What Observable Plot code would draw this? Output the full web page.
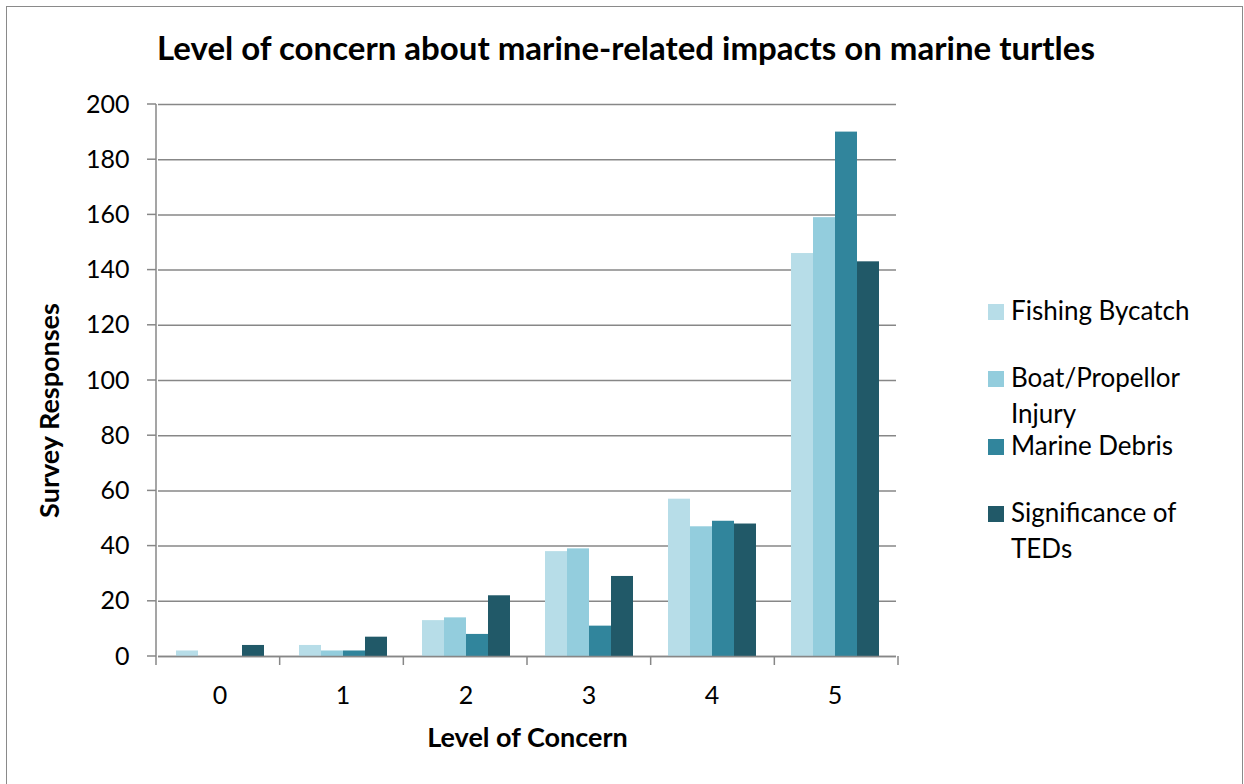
<!DOCTYPE html>
<html>
<head>
<meta charset="utf-8">
<script src="https://cdn.jsdelivr.net/npm/d3@7"></script>
<script src="https://cdn.jsdelivr.net/npm/@observablehq/plot@0.6"></script>
<style>
  html, body { margin: 0; padding: 0; background: #fff; }
  #wrap { position: relative; width: 1244px; height: 784px; overflow: hidden; font-family: Lato, "Open Sans", sans-serif; }
  #border { position: absolute; left: 6px; top: 6px; width: 1237px; height: 800px; border: 1.5px solid #8a8a8a; box-sizing: border-box; }
  #title { position: absolute; left: 0; width: 1252px; top: 31px; line-height: 33px; text-align: center; font-weight: 700; font-size: 33px; color: #000; white-space: nowrap; }
  #chart { position: absolute; left: 0; top: 0; }
  .leg { position: absolute; left: 988px; font-size: 26px; line-height: 36px; color: #000; }
  .leg .sw { position: absolute; left: 0; width: 16px; height: 16px; }
  .leg .tx { position: absolute; left: 23px; white-space: nowrap; }
</style>
</head>
<body>
<div id="wrap">
  <div id="border"></div>
  <div id="title">Level of concern about marine-related impacts on marine turtles</div>
  <div id="chart"></div>
  <div id="legend"></div>
</div>
<script>
const levels = ["0", "1", "2", "3", "4", "5"];
const seriesNames = ["Fishing Bycatch", "Boat/Propellor Injury", "Marine Debris", "Significance of TEDs"];
const legendLines = [["Fishing Bycatch"], ["Boat/Propellor", "Injury"], ["Marine Debris"], ["Significance of", "TEDs"]];
const fishingBycatch = [2, 4, 13, 38, 57, 146];
const boatPropellor = [0, 2, 14, 39, 47, 159];
const marineDebris = [0, 2, 8, 11, 49, 190];
const significanceTEDs = [4, 7, 22, 29, 48, 143];
const seriesColors = ["#b7dde8", "#93cddd", "#31859c", "#215968"];
const yTicks = [0, 20, 40, 60, 80, 100, 120, 140, 160, 180, 200];

const seriesValues = [fishingBycatch, boatPropellor, marineDebris, significanceTEDs];
const rows = [];
levels.forEach((lv, i) => {
  seriesNames.forEach((s, k) => rows.push({level: lv, series: s, value: seriesValues[k][i]}));
});

const gridColor = "#878787";

const plot = Plot.plot({
  width: 1244,
  height: 784,
  marginLeft: 156,
  marginRight: 346,
  marginTop: 104,
  marginBottom: 128,
  style: {fontFamily: "Lato, 'Open Sans', sans-serif", fontSize: "25px", color: "#000", background: "transparent", overflow: "visible"},
  fx: {domain: levels, padding: 0, label: "Level of Concern", labelAnchor: "center", labelArrow: "none", tickSize: 0, tickPadding: 30, labelOffset: 90},
  x: {domain: seriesNames, paddingInner: 0, paddingOuter: 0.75, axis: null},
  y: {domain: [0, 200], ticks: yTicks, tickSize: 0, tickPadding: 29, label: "Survey Responses", labelAnchor: "center", labelArrow: "none", labelOffset: 119},
  color: {domain: seriesNames, range: seriesColors},
  marks: [
    Plot.ruleY(yTicks, {stroke: gridColor, strokeWidth: 1.5}),
    Plot.barY(rows, {fx: "level", x: "series", y: "value", fill: "series"}),
    Plot.ruleY([0], {stroke: gridColor, strokeWidth: 1.5})
  ]
});
document.getElementById("chart").appendChild(plot);

// Bold axis titles (and drop any direction arrow)
d3.select(plot).selectAll("text").each(function() {
  const raw = this.textContent;
  const t = raw.replace(/[\u2190-\u2193]/g, "").trim();
  if (t === "Level of Concern" || t === "Survey Responses") {
    if (t !== raw) this.textContent = t;
    d3.select(this).attr("font-weight", "bold").attr("font-size", "27px");
    if (t === "Survey Responses") {
      const tr = this.getAttribute("transform") || "";
      this.setAttribute("transform", tr + " translate(-30,0)");
    }
  }
});

// Axis lines and Excel-style tick marks from the scales
const ys = plot.scale("y");
const fxs = plot.scale("fx");
const y0 = ys.range[0], y1 = ys.range[1];
const fxLo = fxs.range[0], fxHi = fxs.range[1];
const step = (fxHi - fxLo) / levels.length;
const yScale = d3.scaleLinear(ys.domain, ys.range);
const g = d3.select(plot).append("g").attr("stroke", gridColor).attr("stroke-width", 1.5);
g.append("line").attr("x1", fxLo).attr("x2", fxLo).attr("y1", y0).attr("y2", y1);
yTicks.forEach(v => {
  g.append("line").attr("x1", fxLo - 9).attr("x2", fxLo).attr("y1", yScale(v)).attr("y2", yScale(v));
});
for (let i = 0; i <= levels.length; i++) {
  const x = fxLo + i * step;
  g.append("line").attr("x1", x).attr("x2", x).attr("y1", y0).attr("y2", y0 + 9);
}

// Legend
const legend = document.getElementById("legend");
const legendTops = [292, 359, 427, 494];
legendLines.forEach((lines, k) => {
  const item = document.createElement("div");
  item.className = "leg";
  item.style.top = legendTops[k] + "px";
  const sw = document.createElement("div");
  sw.className = "sw";
  sw.style.background = seriesColors[k];
  sw.style.top = "12px";
  item.appendChild(sw);
  lines.forEach((ln, j) => {
    const tx = document.createElement("div");
    tx.className = "tx";
    tx.style.top = (j * 36) + "px";
    tx.textContent = ln;
    item.appendChild(tx);
  });
  legend.appendChild(item);
});
</script>
</body>
</html>
